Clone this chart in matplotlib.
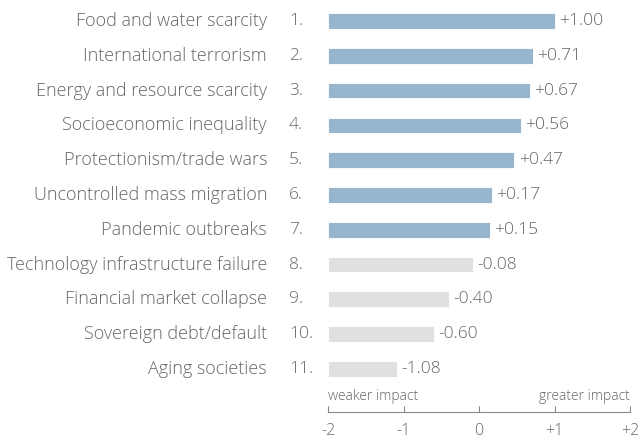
import matplotlib
matplotlib.use("Agg")
import matplotlib.pyplot as plt
from matplotlib.transforms import blended_transform_factory

risks = ["Food and water scarcity", "International terrorism",
         "Energy and resource scarcity", "Socioeconomic inequality",
         "Protectionism/trade wars", "Uncontrolled mass migration",
         "Pandemic outbreaks", "Technology infrastructure failure",
         "Financial market collapse", "Sovereign debt/default",
         "Aging societies"]
scores = [1.00, 0.71, 0.67, 0.56, 0.47, 0.17, 0.15, -0.08, -0.40, -0.60, -1.08]
ticks = [-2, -1, 0, 1, 2]
tick_labels = ["-2", "-1", "0", "+1", "+2"]

plt.rcParams["font.family"] = ["Open Sans", "DejaVu Sans"]
GREY = "#666666"
BLUE = "#97b5cc"
LIGHT = "#e0e0e0"

fig = plt.figure(figsize=(6.38, 4.38), dpi=100)
ax = fig.add_axes([328 / 638, 26 / 438, 302 / 638, 408 / 438])

base = -2
ypos = list(range(len(risks)))
colors = [BLUE if s > 0 else LIGHT for s in scores]
ax.barh(ypos, [s - base for s in scores], left=base, height=0.45,
        color=colors, edgecolor="white", linewidth=0.6)

for y, s in zip(ypos, scores):
    ax.annotate(f"{s:+.2f}", (s, y), xytext=(3, 0), textcoords="offset points",
                va="center", ha="left", fontsize=12.5, color=GREY,
                fontweight="light")

tr = blended_transform_factory(fig.transFigure, ax.transData)
for i, (name, y) in enumerate(zip(risks, ypos)):
    fig.text(267 / 638, y, name, transform=tr, ha="right", va="center",
             fontsize=13, color=GREY, fontweight="light")
    fig.text(289 / 638, y, f"{i + 1}.", transform=tr, ha="left", va="center",
             fontsize=12.5, color=GREY, fontweight="light")

ax.set_xlim(-2, 2)
ax.set_ylim(11.24, -0.49)
for side in ["top", "right", "left"]:
    ax.spines[side].set_visible(False)
ax.spines["bottom"].set_color("#888888")
ax.set_yticks([])
ax.set_xticks(ticks)
ax.set_xticklabels(tick_labels, fontweight="light")
ax.tick_params(axis="x", direction="in", length=4, color="#888888",
               labelcolor=GREY, labelsize=11.5, pad=8)

bt = blended_transform_factory(ax.transAxes, ax.transData)
ax.text(0.0, 10.8, "weaker impact", ha="left", va="center", fontsize=10,
        color=GREY, transform=bt, fontweight="light")
ax.text(1.0, 10.8, "greater impact", ha="right", va="center", fontsize=10,
        color=GREY, transform=bt, fontweight="light")

fig.savefig("out.png", dpi=100)
